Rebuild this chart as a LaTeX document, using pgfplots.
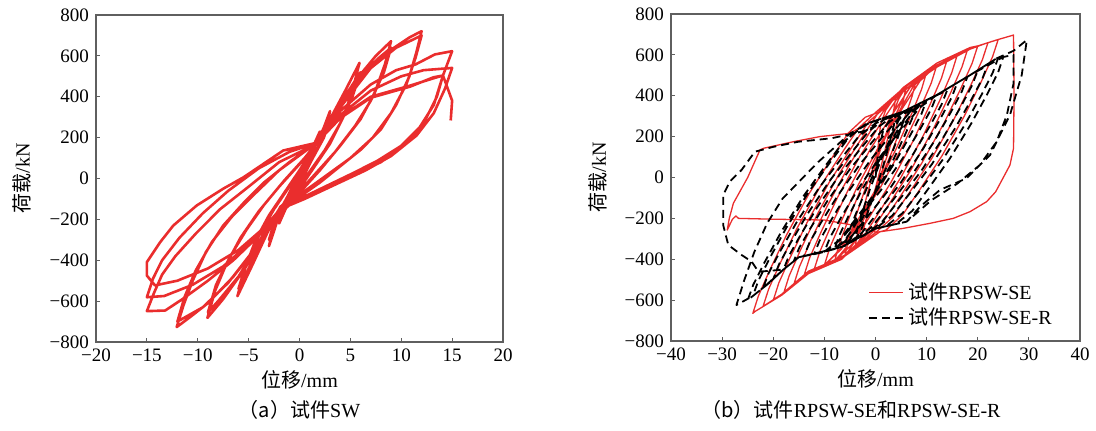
\documentclass[border=0pt]{standalone}
\usepackage{fontspec}
\setmainfont{Liberation Serif}
\newfontfamily\cjk{Noto Sans CJK SC}
\usepackage{pgfplots}
\pgfplotsset{compat=1.18}

\definecolor{cred}{RGB}{234,45,45}
\definecolor{frame}{RGB}{95,95,95}

\pgfplotsset{
  hyst/.style={
    scale only axis, anchor=south west,
    axis line style={frame, line width=0.7pt},
    tick pos=left, tick align=inside,
    major tick length=2pt,
    tick style={frame, line width=0.6pt},
    ticklabel style={font=\fontsize{9.5}{10}\selectfont},
    label style={font=\fontsize{10}{11}\selectfont},
    ymin=-800, ymax=800,
    ytick={-800,-600,...,800},
    yticklabels={−800,−600,−400,−200,0,200,400,600,800},
    ylabel={{\cjk 荷载}/kN},
    xlabel={{\cjk 位移}/mm},
    xlabel style={at={(axis description cs:0.5,-0.116)}, anchor=center},
  },
}

\begin{document}
\begin{tikzpicture}
\useasboundingbox (0,0) rectangle (548pt,215pt);

% (a) SW
\begin{axis}[hyst,
  at={(48pt,44pt)}, width=203.5pt, height=163.5pt,
  xmin=-20, xmax=20,
  xtick={-20,-15,...,20},
  xticklabels={−20,−15,−10,−5,0,5,10,15,20},
  ylabel style={at={(axis description cs:-0.182,0.5)}, anchor=center},
]
\addplot[cred, line width=1.3pt, line join=round] coordinates {
(0,0) (0.5,60) (1,110) (0.5,50) (0,-10) (-0.5,-60) (-1,-100) (-0.5,-40) (0,10)
(1,120) (2,230) (1.5,150) (0.5,40) (-0.5,-60) (-1.2,-130) (-2,-220) (-1.5,-140) (-0.5,-30) (0.5,70)
(1.7,175) (2.4,250) (3,330) (2.6,240) (1.8,150) (0.5,20) (-1,-100) (-2,-180) (-3,-331) (-2.6,-240) (-1.8,-150) (-0.5,-20) (0.8,100)
(1.7,170) (2.5,240) (3,300) (2.4,200) (1.2,90) (-0.2,-30) (-1.5,-120) (-2.3,-200) (-3,-300) (-2.4,-200) (-1.2,-90) (0,20)
(1.7,175) (3,290) (4.5,430) (5.9,566) (5.2,430) (4.3,300) (3,170) (1.5,60) (0,-50) (-1.9,-140) (-3.2,-270) (-4.6,-420) (-6.1,-576) (-5.3,-430) (-4.3,-300) (-3,-180) (-1.5,-70) (0,40)
(1.7,170) (3.2,300) (4.7,420) (6,520) (5.2,400) (4,270) (2.5,140) (0.8,20) (-1,-90) (-2.2,-170) (-3.5,-290) (-4.8,-420) (-6,-540) (-5.2,-410) (-4,-280) (-2.5,-150) (-1,-40) (0.5,80)
(1.7,175) (3.5,330) (5.5,480) (7.5,600) (9,672) (8.4,560) (7.4,420) (6,290) (4,160) (2,40) (0,-70) (-1.9,-145) (-3.5,-290) (-5.5,-450) (-7.5,-590) (-9.05,-682) (-8.3,-550) (-7.2,-420) (-5.8,-290) (-4,-160) (-2,-40) (0,70)
(1.7,170) (3.8,340) (6,500) (7.8,590) (9,640) (8.3,520) (7,380) (5.5,260) (3.5,130) (1.5,20) (-0.5,-90) (-2,-160) (-4,-320) (-6,-480) (-8,-600) (-9,-655) (-8.2,-520) (-6.8,-380) (-5.2,-250) (-3.5,-130) (-1.5,-10) (0.5,100)
(1.7,175) (4,360) (6.5,520) (9,630) (10.8,690) (12,721) (11.5,620) (10.8,500) (9.5,360) (8,240) (6,140) (4,60) (2,-20) (0,-90) (-1.9,-145) (-4,-320) (-6.5,-480) (-9,-610) (-10.8,-680) (-12.07,-727) (-11.4,-620) (-10.5,-500) (-9.2,-360) (-7.5,-230) (-5.5,-120) (-3.5,-20) (-1,80)
(1.7,175) (4.2,360) (7,540) (9.5,640) (12,700) (11.4,590) (10.5,460) (9,320) (7.2,200) (5,100) (2.5,10) (0,-80) (-2,-150) (-4.5,-350) (-7,-510) (-9.5,-630) (-12,-700) (-11.3,-580) (-10.2,-450) (-8.6,-310) (-6.7,-190) (-4.5,-80) (-2,40)
(1.7,175) (4,330) (7,460) (9.5,530) (11.4,558) (13.3,607) (15,623) (14.1,504) (13.2,360) (11.8,250) (10,160) (7.6,85) (5,20) (2.5,-40) (0,-100) (-1.9,-150) (-4,-280) (-6.5,-400) (-9,-500) (-11.5,-590) (-13.2,-646) (-15,-649) (-14.3,-560) (-13.5,-470) (-12.2,-380) (-10.2,-270) (-7.8,-150) (-5,-40) (-2,80)
(1.7,170) (4,310) (7,430) (10,500) (12.2,530) (15,541) (14.3,440) (13.2,320) (11.5,210) (9,110) (6.5,40) (3.5,-30) (0.5,-100) (-1.9,-150) (-4.5,-300) (-7.5,-430) (-10.5,-520) (-13.3,-575) (-15,-581) (-14.4,-490) (-13.5,-400) (-11.8,-290) (-9.5,-170) (-7,-60) (-4,50) (-1,130)
(1.7,175) (4,300) (7,400) (10.9,455) (13.15,490) (14.1,504) (13.5,400) (12.3,280) (10.5,170) (8,80) (5,10) (2,-60) (-1,-130) (-3,-220) (-6,-350) (-9,-440) (-12,-500) (-14.2,-523) (-15,-475) (-15,-409)
(-13.7,-312) (-12.4,-230) (-10.1,-132) (-7.5,-50) (-5.5,6) (-1.6,137) (1.7,175) (4,295) (7,395) (10.9,450) (13.15,495) (14.1,504) (15,381) (14.86,284)
};
\end{axis}

% (b) RPSW-SE and RPSW-SE-R
\begin{axis}[hyst,
  at={(335.5pt,44.5pt)}, width=204.5pt, height=163.5pt,
  xmin=-40, xmax=40,
  xtick={-40,-30,...,40},
  xticklabels={−40,−30,−20,−10,0,10,20,30,40},
  ylabel style={at={(axis description cs:-0.178,0.5)}, anchor=center},
  legend style={at={(axis description cs:0.467,0.205)}, anchor=north west,
    draw=none, fill=none, font=\fontsize{10}{12}\selectfont, row sep=-1pt},
  legend cell align=left,
]
\addplot[cred, line width=0.65pt, line join=round] coordinates {
(0,0) (0.5,150) (1,260) (2,330) (4,401)
(3.6,334) (2.8,238) (1.6,105) (0,-51) (-1.6,-184) (-2.8,-293) (-4,-340)
(-3.5,-269) (-2.5,-167) (-1,-26) (1,139) (3,281) (4.5,383) (6,446)
(5.4,371) (4.2,263) (2.4,114) (0,-61) (-2.4,-211) (-4.2,-319) (-6,-385)
(-5.3,-307) (-3.9,-194) (-1.8,-39) (1,143) (3.8,299) (5.9,412) (8,481)
(7.2,401) (5.6,285) (3.2,125) (0,-62) (-3.2,-222) (-5.6,-338) (-8,-409)
(-7.1,-326) (-5.3,-206) (-2.6,-39) (1,155) (4.6,322) (7.3,442) (10,516)
(9,431) (7,308) (4,138) (0,-60) (-4,-231) (-7,-353) (-10,-429)
(-8.9,-341) (-6.7,-214) (-3.4,-37) (1,168) (5.4,344) (8.7,472) (12,550)
(10.9,462) (8.7,335) (5.4,158) (1,-47) (-3.4,-223) (-6.7,-351) (-10,-429) (-12,-450)
(-10.9,-363) (-8.7,-237) (-5.4,-64) (-1,139) (3.4,313) (6.7,439) (10,516) (14,575)
(12.9,486) (10.7,359) (7.4,181) (3,-25) (-1.4,-202) (-4.7,-330) (-8,-409) (-13.1,-465) (-14,-481)
(-12.9,-394) (-10.7,-269) (-7.4,-96) (-3,106) (1.4,279) (4.7,404) (8,475) (12,540) (16,600)
(14.9,512) (12.7,384) (9.4,208) (5,2) (0.6,-174) (-2.7,-302) (-6,-380) (-13.1,-461) (-16,-525)
(-14.9,-438) (-12.7,-311) (-9.4,-137) (-5,67) (-0.6,242) (2.7,368) (6,446) (12,550) (18,626)
(16.9,540) (14.7,415) (11.4,242) (7,40) (2.6,-133) (-0.7,-258) (-4,-335) (-6.6,-400) (-13.1,-470) (-18,-569)
(-16.9,-482) (-14.7,-356) (-11.4,-181) (-7,23) (-2.6,197) (0.7,323) (4,401) (5.4,440) (12,560) (18.5,636) (20,644)
(18.9,559) (16.7,436) (13.4,266) (9,68) (4.6,-102) (1.3,-224) (-2,-300) (-6.6,-395) (-13.1,-461) (-18.3,-575) (-20,-601)
(-18.9,-515) (-16.7,-392) (-13.4,-221) (-9,-21) (-4.6,150) (-1.3,274) (2,345) (5.4,425) (12,540) (18.5,628) (22,660)
(20.9,576) (18.7,455) (15.4,288) (11,93) (6.6,-75) (3.3,-196) (0,-270) (-6.6,-390) (-13.1,-458) (-18.3,-570) (-22,-631)
(-20.9,-546) (-18.7,-422) (-15.4,-251) (-11,-52) (-6.6,119) (-3.3,242) (0,318) (5.4,436) (12,550) (18.5,632) (24,675)
(22.9,591) (20.7,470) (17.4,302) (13,106) (8.6,-62) (5.3,-183) (2,-258) (0.9,-265) (-6.6,-395) (-13.1,-461) (-18.3,-575) (-23.6,-656) (-24,-665)
(-22.9,-579) (-20.7,-454) (-17.4,-281) (-13,-79) (-8.6,93) (-5.3,218) (-2,295) (0.9,322) (5.4,436) (12,550) (18.5,632) (23.7,673) (27,697)
(27.1,400) (27,143) (26.3,61) (25,0) (23.5,-70) (21.75,-118) (18.5,-167) (15.2,-200) (10.7,-224) (5.4,-249) (0.2,-268) (-4,-235) (-10,-208) (-20,-204) (-26.8,-200) (-27.3,-188) (-28,-205) (-29,-257) (-28.6,-200) (-27.8,-126) (-25,0) (-22.6,135) (-21.9,143) (-16.1,175) (-10.9,200) (-5,216) (-2,260)
};
\addlegendentry{{\cjk 试件}RPSW-SE}
\addplot[black, line width=0.9pt, dash pattern=on 4pt off 2.5pt, line join=round] coordinates {
(0,0) (0.5,120) (1.5,230) (3,290) (4,311)
(3.6,256) (2.8,175) (1.6,65) (0,-65) (-1.6,-176) (-2.8,-256) (-4,-305)
(-3.5,-248) (-2.5,-165) (-1,-51) (1,82) (3,197) (4.5,279) (6,330)
(5.4,270) (4.2,184) (2.4,65) (0,-74) (-2.4,-193) (-4.2,-279) (-6,-332)
(-5.3,-270) (-3.9,-181) (-1.8,-58) (1,86) (3.8,210) (5.9,299) (8,354)
(7.2,291) (5.6,199) (3.2,72) (0,-75) (-3.2,-202) (-5.6,-294) (-8,-350)
(-7.1,-284) (-5.3,-190) (-2.6,-58) (1,95) (4.6,226) (7.3,321) (10,379)
(9,312) (7,216) (4,82) (0,-74) (-4,-207) (-7,-304) (-10,-363)
(-8.9,-294) (-6.7,-194) (-3.4,-56) (1,105) (5.4,243) (8.7,343) (12,404)
(10.9,335) (8.7,235) (5.4,97) (1,-64) (-3.4,-202) (-6.7,-302) (-10,-363) (-12,-375)
(-10.9,-307) (-8.7,-209) (-5.4,-73) (-1,85) (3.4,221) (6.7,319) (10,379) (14,426)
(12.9,356) (10.7,255) (7.4,116) (3,-47) (-1.4,-187) (-4.7,-288) (-8,-350) (-11,-370) (-14,-385)
(-12.9,-318) (-10.7,-222) (-7.4,-89) (-3,66) (1.4,199) (4.7,295) (8,354) (12,404) (16,464)
(14.9,392) (12.7,288) (9.4,144) (5,-23) (0.6,-167) (-2.7,-271) (-6,-335) (-11,-370) (-15,-390) (-16,-410)
(-14.9,-343) (-12.7,-247) (-9.4,-114) (-5,41) (-0.6,175) (2.7,271) (6,330) (12,404) (18,494)
(16.9,422) (14.7,318) (11.4,174) (7,7) (2.6,-137) (-0.7,-241) (-4,-305) (-6.6,-340) (-15,-390) (-18,-450)
(-16.9,-382) (-14.7,-283) (-11.4,-146) (-7,14) (-2.6,151) (0.7,250) (4,311) (5.4,322) (12,404) (18.5,501) (20,524)
(18.9,452) (16.7,347) (13.4,202) (9,34) (4.6,-111) (1.3,-216) (-2,-280) (-6.6,-340) (-15,-390) (-18,-450) (-20,-497)
(-18.9,-426) (-16.7,-324) (-13.4,-182) (-9,-17) (-4.6,125) (-1.3,227) (2,290) (5.4,322) (12,404) (18.5,501) (22,556)
(20.9,483) (18.7,379) (15.4,234) (11,64) (6.6,-81) (3.3,-186) (0,-250) (-6.6,-340) (-15,-390) (-18,-450) (-22,-540)
(-20.9,-468) (-18.7,-363) (-15.4,-218) (-11,-49) (-6.6,96) (-3.3,201) (0,265) (5.4,322) (12,404) (18.5,501) (23.7,583) (24,585)
(22.9,511) (20.7,403) (17.4,255) (13,82) (8.6,-67) (5.3,-174) (2,-240) (0,-250) (-6.6,-340) (-15,-390) (-18,-450) (-21,-520) (-24,-580)
(-22.9,-504) (-20.7,-395) (-17.4,-244) (-13,-68) (-8.6,84) (-5.3,193) (-2,260) (5.4,322) (12,404) (18.5,501) (25,590)
(24,516) (21.9,410) (18.7,263) (14.5,91) (10.3,-56) (7.2,-163) (4,-228) (0,-250) (-6.6,-340) (-15,-390) (-18,-450) (-21,-520) (-25,-600)
(-23.9,-524) (-21.7,-415) (-18.4,-264) (-14,-88) (-9.6,64) (-6.3,173) (-3,240) (-1,270) (5.4,322) (12,404) (18.5,501) (23.7,583) (27,600)
(27,460) (25.7,306) (23.7,175) (20.4,61) (16,-30) (11,-110) (6.1,-216) (0,-250) (-6.6,-340) (-15,-390) (-18,-450) (-21,-520) (-24,-580) (-27.2,-624)
(-25.7,-504) (-23.7,-364) (-21.2,-224) (-18.2,-104) (-14.7,-14) (-11.2,76) (-7,170) (-5,215) (-1,270) (5.4,322) (12,404) (18.5,501) (23.7,583) (27,620) (29.6,673)
(28.6,501) (26.3,306) (22.4,110) (17.8,-4) (12.6,-61) (8.7,-143) (6.1,-216) (0,-250) (-6.6,-340) (-15,-390) (-18,-450) (-20,-455) (-22.9,-461)
(-24.2,-412) (-26.2,-379) (-28.8,-330) (-29.8,-232) (-29.8,-86) (-28.5,-20) (-26.2,37) (-23.6,126) (-20,150) (-15.1,175) (-8.6,192) (-2.7,224) (0,250)
};
\addlegendentry{{\cjk 试件}RPSW-SE-R}
\end{axis}

\node[font=\fontsize{10}{11}\selectfont] at (149.75pt,10pt) {{\cjk （a）试件}SW};
\node[font=\fontsize{10}{11}\selectfont] at (425.5pt,10pt) {{\cjk （b）试件}RPSW-SE{\cjk 和}RPSW-SE-R};
\end{tikzpicture}
\end{document}
